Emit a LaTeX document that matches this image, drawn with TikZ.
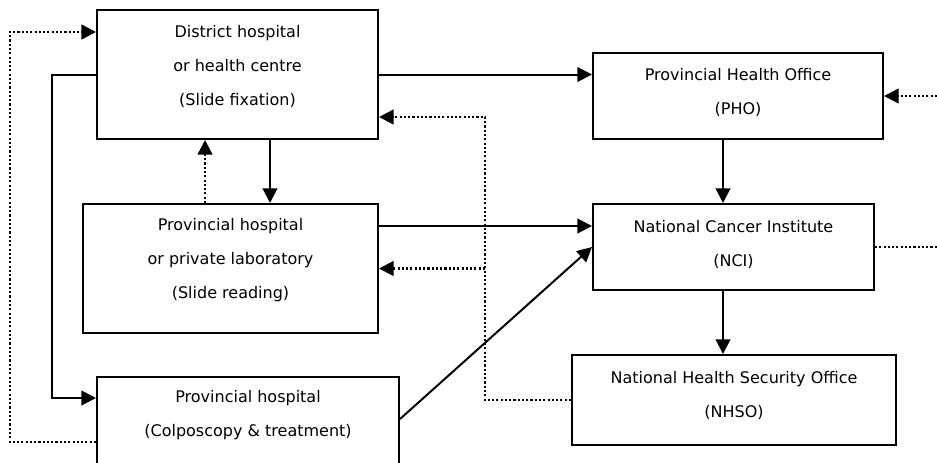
\documentclass[tikz,border=0pt]{standalone}
\usepackage{fontspec}
\setmainfont{DejaVu Sans}
\usetikzlibrary{arrows.meta,calc}

\begin{document}
\begin{tikzpicture}[x=0.75pt,y=-0.75pt,>={Triangle[length=11pt,width=11pt]},line width=1.5pt]
        \tikzstyle{box}=[draw=black,rectangle,inner sep=0pt]
        \tikzstyle{txt}=[align=center,inner sep=0pt,font=\fontsize{12}{25.5}\selectfont]
        \tikzstyle{dots}=[line width=1.9pt,dash pattern=on 1.6pt off 1.6pt]
        \useasboundingbox (0,0) rectangle (937,462);
        \clip (0,0) rectangle (937,462);
        % boxes
        \node[box,minimum width=210.75pt,minimum height=96.75pt] (dh)    at (237.5,74.5) {};
        \node[box,minimum width=221.25pt,minimum height=96.75pt] (lab)   at (230.5,268.5) {};
        \node[box,minimum width=226.5pt,minimum height=84.75pt]  (colpo) at (248,433.5) {};
        \node[box,minimum width=217.5pt,minimum height=64.5pt]   (pho)   at (738,96) {};
        \node[box,minimum width=210.75pt,minimum height=64.5pt]  (nci)   at (733.5,247) {};
        \node[box,minimum width=243pt,minimum height=67.5pt]     (nhso)  at (734,400) {};
        % texts
        \node[txt] (dh-txt)    at (237.5,66.5)  {District hospital\\or health centre\\(Slide fixation)};
        \node[txt] (lab-txt)   at (230.5,260.5) {Provincial hospital\\or private laboratory\\(Slide reading)};
        \node[txt] (colpo-txt) at (248,415.5)   {Provincial hospital\\(Colposcopy \& treatment)};
        \node[txt] (pho-txt)   at (738,92.5)    {Provincial Health Office\\(PHO)};
        \node[txt] (nci-txt)   at (733.5,244.5) {National Cancer Institute\\(NCI)};
        \node[txt] (nhso-txt)  at (734,395)     {National Health Security Office\\(NHSO)};
        \coordinate (rim) at (937,0);
        % solid links
        \draw[->] (dh.east) -- (dh.east -| pho.west);
        \draw[->] ($(dh.south)+(32.5,0)$) coordinate (a) -- (a |- lab.north);
        \draw[->] (dh.west) -- ++(-44,0) |- ($(colpo.west)+(0,-35.5)$);
        \draw[->] ($(lab.east)+(0,-42.5)$) coordinate (b) -- (b -| nci.west);
        \draw[->] ($(colpo.east)+(0,-14.5)$) -- (nci.west);
        \draw[->] ($(pho.south)+(-15,0)$) coordinate (c) -- (c |- nci.north);
        \draw[->] ($(nci.south)+(-10.5,0)$) coordinate (d) -- (d |- nhso.north);
        % dotted links
        \draw[->,dots] ($(lab.north)+(-25.5,0)$) coordinate (e) -- (e |- dh.south);
        \draw[->,dots] ($(colpo.west)+(0,8.5)$) -- ++(-86,0) |- ($(dh.west)+(0,-42.5)$);
        \draw[->,dots] (nhso.west) -- ++(-86,0) coordinate (jn) |- ($(dh.east)+(0,42.5)$);
        \draw[->,dots] (jn |- lab.east) -- (lab.east);
        \draw[dots] (nci.east) -- (rim |- nci.east);
        \draw[->,dots] (rim |- pho.east) -- (pho.east);
\end{tikzpicture}
\end{document}
